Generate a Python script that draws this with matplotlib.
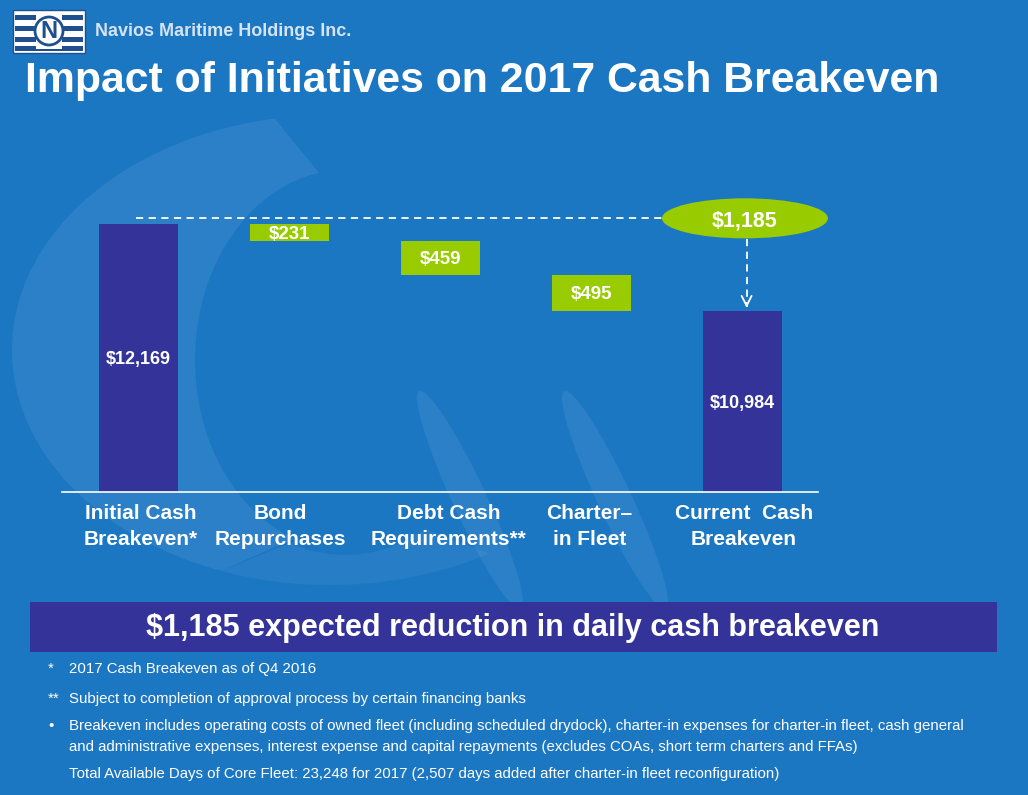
import matplotlib
matplotlib.use("Agg")
import numpy as np
import matplotlib.pyplot as plt
from matplotlib.patches import Ellipse, Rectangle, Circle, Polygon

plt.rcParams['font.family'] = ['Liberation Sans', 'DejaVu Sans']

# data
categories = ["Initial Cash\nBreakeven*", "Bond\nRepurchases", "Debt Cash\nRequirements**",
              "Charter\u2013\nin Fleet", "Current  Cash\nBreakeven"]
start_value = 12169
reductions = [231, 459, 495]
end_value = 10984
total_reduction = 1185

note_marks = ["*", "**", "\u2022", "", ""]
note_lines = [
    "2017 Cash Breakeven as of Q4 2016",
    "Subject to completion of approval process by certain financing banks",
    "Breakeven includes operating costs of owned fleet (including scheduled drydock), charter-in expenses for charter-in fleet, cash general",
    "and administrative expenses, interest expense and capital repayments (excludes COAs, short term charters and FFAs)",
    "Total Available Days of Core Fleet: 23,248 for 2017 (2,507 days added after charter-in fleet reconfiguration)",
]

BG = "#1c77c3"
NAVY = "#333399"
GREEN = "#99cc00"

W, H = 1028, 795
fig = plt.figure(figsize=(W / 100, H / 100), dpi=100)
fig.patch.set_facecolor(BG)

# background decoration (faint crescent swirl and fins)
deco = fig.add_axes([0, 0, 1, 1])
deco.set_xlim(0, W)
deco.set_ylim(H, 0)
deco.axis("off")
t_out = np.radians(np.linspace(250, 100, 80))
t_in = np.radians(np.linspace(100, 250, 80))
outer = np.column_stack([330 + 318 * np.cos(t_out), 350 - 235 * np.sin(t_out)])
inner = np.column_stack([345 + 150 * np.cos(t_in), 360 - 190 * np.sin(t_in)])
deco.add_patch(Polygon(np.vstack([outer, inner]), closed=True, facecolor="white",
                       edgecolor="none", alpha=0.07))
t_tail = np.radians(np.linspace(250, 300, 30))
tail_o = np.column_stack([330 + 318 * np.cos(t_tail), 350 - 235 * np.sin(t_tail)])
tail_i = np.column_stack([345 + 160 * np.cos(t_tail[::-1]), 360 - 195 * np.sin(t_tail[::-1])])
deco.add_patch(Polygon(np.vstack([tail_o, tail_i]), closed=True, facecolor="white",
                       edgecolor="none", alpha=0.05))
for cx in (470, 615):
    deco.add_patch(Ellipse((cx, 500), 34, 240, angle=-25, facecolor="white",
                           edgecolor="none", alpha=0.07))

# logo
deco.add_patch(Rectangle((13, 10), 72, 43, facecolor="white", edgecolor="#1f4f8f", lw=1))
for yy in (15, 26, 37, 46):
    deco.add_patch(Rectangle((15, yy), 68, 5, facecolor="#1f4f8f", lw=0))
deco.add_patch(Rectangle((36, 14), 26, 35, facecolor="white", lw=0))
deco.add_patch(Circle((49, 31), 14, facecolor="white", edgecolor="#1f4f8f", lw=2))
deco.text(49, 32, "N", color="#1f4f8f", fontsize=17, fontweight="bold", ha="center", va="center")
deco.text(95, 32, "Navios Maritime Holdings Inc.", color="#d5e3f2", fontsize=13,
          fontweight="bold", ha="left", va="center")

# title
deco.text(25, 81, "Impact of Initiatives on 2017 Cash Breakeven", color="white",
          fontsize=30.8, fontweight="bold", ha="left", va="center")

# banner
deco.add_patch(Rectangle((30, 602), 967, 50, facecolor=NAVY, lw=0))
deco.text(513, 628, "$1,185 expected reduction in daily cash breakeven", color="white",
          fontsize=22, fontweight="bold", ha="center", va="center")

# footnotes
fy = [669, 699, 726, 747, 774]
for mark, txt, y in zip(note_marks, note_lines, fy):
    if mark:
        deco.text(48, y, mark, color="white", fontsize=10.8, ha="left", va="center")
    deco.text(69, y, txt, color="white", fontsize=10.8, ha="left", va="center")

# waterfall chart
ax = fig.add_axes([62 / W, (H - 492) / H, 756 / W, 302 / H])
ax.set_facecolor("none")
ax.set_xlim(-0.507, 4.503)
ax.set_ylim(8519, 12632)
for s in ["top", "right", "left"]:
    ax.spines[s].set_visible(False)
ax.spines["bottom"].set_color("white")
ax.spines["bottom"].set_linewidth(1.2)
ax.set_yticks([])
ax.set_xticks([])

bw = 0.523
base = ax.get_ylim()[0]
ax.bar(0, start_value - base, bottom=base, width=bw, color=NAVY)
ax.text(0, (start_value + base) / 2, f"${start_value:,}", color="white", fontsize=13,
        fontweight="bold", ha="center", va="center_baseline")

level = start_value
for i, r in enumerate(reductions, start=1):
    ax.bar(i, r, bottom=level - r, width=bw, color=GREEN)
    ax.text(i, level - r / 2, f"${r:,}", color="white", fontsize=13.5, fontweight="bold",
            ha="center", va="center_baseline")
    level -= r

ax.bar(4, end_value - base, bottom=base, width=bw, color=NAVY)
ax.text(4, (end_value + base) / 2, f"${end_value:,}", color="white", fontsize=13,
        fontweight="bold", ha="center", va="center_baseline")

# total reduction callout
line_y = start_value + 82
ell_x = 4.019
ax.plot([-0.015, ell_x - 0.55], [line_y, line_y], color="white", lw=1.3, ls=(0, (4, 3)), clip_on=False)
ax.add_patch(Ellipse((ell_x, line_y - 5), 1.10, 545, facecolor=GREEN, edgecolor="none", clip_on=False))
ax.text(ell_x, line_y - 5, f"${total_reduction:,}", color="white", fontsize=15.5,
        fontweight="bold", ha="center", va="center_baseline")
ax.plot([4.03, 4.03], [line_y - 280, end_value + 60], color="white", lw=1.3, ls=(0, (4, 3)))
ax.annotate("", xy=(4.03, end_value + 5), xytext=(4.03, end_value + 150),
            arrowprops=dict(arrowstyle="->", color="white", lw=1.3, mutation_scale=18))

label_x = [0.017, -0.060, 0.053, -0.013, 0.013]
for i, (cat, dx) in enumerate(zip(categories, label_x)):
    ax.text(i + dx, base - 170, cat, color="white", fontsize=15, fontweight="bold",
            ha="center", va="top", linespacing=1.45)

fig.savefig("out.png", dpi=100, facecolor=fig.get_facecolor())
